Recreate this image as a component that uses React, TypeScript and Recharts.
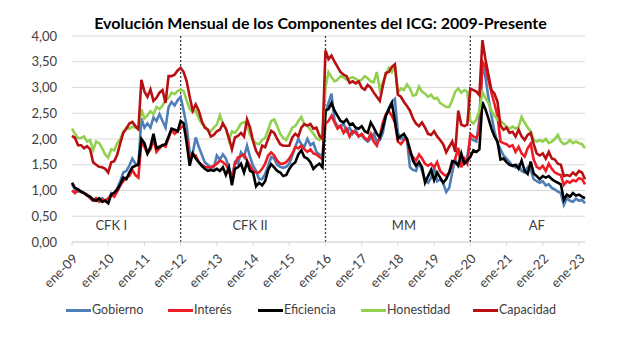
import React from 'react';
import {
  LineChart,
  Line,
  XAxis,
  YAxis,
  CartesianGrid,
  ReferenceLine,
  ReferenceDot,
} from 'recharts';

// Meses ene-09 .. mar-23
const MESES = ['ene', 'feb', 'mar', 'abr', 'may', 'jun', 'jul', 'ago', 'sep', 'oct', 'nov', 'dic'];
const ANIOS = ['09', '10', '11', '12', '13', '14', '15', '16', '17', '18', '19', '20', '21', '22', '23'];
const categorias = ANIOS.flatMap((a) => MESES.map((m) => `${m}-${a}`)).slice(0, 171);

const gobierno = [
  1.12, 1.02, 0.98, 0.97, 0.95, 0.92, 0.88, 0.82, 0.85, 0.80, 0.85, 0.80,
  0.78, 0.95, 0.92, 1.05, 1.18, 1.35, 1.38, 1.48, 1.62, 1.52, 1.50, 2.40,
  2.22, 2.30, 2.22, 2.42, 2.35, 2.48, 2.35, 2.22, 2.62, 2.72, 2.65, 2.75,
  2.82, 2.55, 2.25, 1.74, 1.72, 2.03, 1.85, 1.70, 1.55, 1.50, 1.45, 1.45,
  1.68, 1.60, 1.70, 1.62, 1.45, 1.25, 1.55, 1.52, 1.74, 1.65, 1.87, 1.65,
  1.48, 1.38, 1.22, 1.22, 1.32, 1.48, 1.65, 1.62, 1.50, 1.46, 1.44, 1.46,
  1.52, 1.68, 1.85, 2.00, 1.90, 1.85, 2.00, 1.88, 1.92, 1.75, 1.70, 1.68,
  2.50, 2.70, 2.88, 2.35, 2.25, 2.25, 2.30, 2.15, 2.22, 2.10, 2.18, 2.05,
  2.08, 2.00, 1.95, 2.00, 2.10, 1.95, 1.98, 2.12, 2.45, 2.60, 2.72, 2.78,
  2.12, 2.00, 2.03, 1.98, 1.45, 1.40, 1.38, 1.55, 1.38, 1.20, 1.15, 1.25,
  1.45, 1.18, 1.22, 1.15, 0.97, 1.05, 1.35, 1.60, 1.48, 1.62, 1.55, 1.65,
  2.02, 1.98, 1.95, 2.40, 3.45, 3.20, 2.80, 2.45, 2.15, 1.92, 1.80, 1.68,
  1.62, 1.55, 1.48, 1.45, 1.50, 1.38, 1.35, 1.45, 1.40, 1.22, 1.18, 1.15,
  1.18, 1.10, 1.12, 1.05, 1.02, 0.98, 0.95, 0.72, 0.85, 0.80, 0.78, 0.84,
  0.80, 0.82, 0.75,
];

const interes = [
  1.00, 0.95, 1.02, 0.98, 0.95, 0.92, 0.85, 0.80, 0.85, 0.78, 0.82, 0.80,
  0.85, 0.92, 0.88, 0.98, 1.10, 1.18, 1.25, 1.28, 1.40, 1.30, 1.25, 1.95,
  1.85, 1.72, 1.80, 2.00, 1.75, 1.82, 1.88, 1.85, 2.02, 2.18, 2.10, 2.15,
  2.22, 2.25, 2.05, 1.64, 1.70, 1.68, 1.55, 1.50, 1.46, 1.45, 1.45, 1.48,
  1.52, 1.58, 1.55, 1.50, 1.40, 1.18, 1.52, 1.64, 1.67, 1.70, 1.58, 1.48,
  1.38, 1.35, 1.35, 1.42, 1.52, 1.68, 1.74, 1.68, 1.58, 1.52, 1.52, 1.55,
  1.62, 1.72, 1.84, 1.82, 1.87, 1.80, 1.75, 1.80, 1.72, 1.70, 1.65, 1.61,
  2.30, 2.35, 2.45, 2.32, 2.20, 2.25, 2.12, 2.20, 2.05, 2.15, 2.12, 2.05,
  2.10, 2.02, 1.98, 2.10, 1.95, 1.87, 2.05, 2.32, 2.48, 2.54, 2.45, 2.32,
  1.95, 1.90, 1.98, 2.00, 1.72, 1.65, 1.58, 1.70, 1.62, 1.52, 1.48, 1.52,
  1.45, 1.55, 1.38, 1.32, 1.28, 1.35, 1.50, 1.62, 1.83, 1.45, 1.62, 1.52,
  2.10, 2.05, 2.02, 2.15, 3.50, 3.40, 3.15, 2.90, 2.68, 2.45, 1.95, 1.92,
  1.90, 1.85, 1.88, 1.75, 1.85, 1.72, 1.66, 1.82, 1.91, 1.60, 1.46, 1.42,
  1.48, 1.38, 1.52, 1.42, 1.35, 1.32, 1.30, 1.11, 1.18, 1.15, 1.20, 1.18,
  1.24, 1.22, 1.12,
];

const eficiencia = [
  1.15, 1.05, 1.02, 0.98, 0.95, 0.90, 0.88, 0.82, 0.80, 0.85, 0.78, 0.80,
  0.75, 0.92, 0.96, 1.02, 1.12, 1.25, 1.22, 1.35, 1.45, 1.48, 1.50, 2.00,
  1.92, 1.72, 1.85, 2.10, 1.82, 1.85, 1.88, 1.90, 2.05, 2.20, 2.18, 2.15,
  2.35, 2.30, 1.92, 1.48, 1.72, 1.62, 1.55, 1.48, 1.42, 1.38, 1.40, 1.38,
  1.42, 1.38, 1.45, 1.30, 1.45, 1.10, 1.42, 1.45, 1.52, 1.35, 1.55, 1.38,
  1.35, 1.08, 1.15, 1.10, 1.18, 1.40, 1.51, 1.45, 1.38, 1.35, 1.28, 1.30,
  1.42, 1.50, 1.55, 1.70, 1.78, 1.65, 1.62, 1.55, 1.42, 1.48, 1.52, 1.45,
  2.55, 2.58, 2.70, 2.55, 2.45, 2.35, 2.32, 2.38, 2.28, 2.30, 2.22, 2.20,
  2.25, 2.15, 2.12, 2.32, 2.22, 2.10, 2.03, 2.22, 2.45, 2.58, 2.70, 2.35,
  2.00, 2.06, 2.10, 2.00, 1.80, 1.58, 1.48, 1.55, 1.45, 1.15, 1.28, 1.40,
  1.20, 1.35, 1.25, 1.15, 1.22, 1.35, 1.57, 1.55, 1.48, 1.72, 1.52, 1.58,
  1.65, 1.78, 1.75, 1.80, 2.72, 2.58, 2.40, 2.20, 2.05, 1.95, 1.60, 1.62,
  1.55, 1.50, 1.48, 1.50, 1.42, 1.58, 1.38, 1.32, 1.56, 1.33, 1.28, 1.22,
  1.28, 1.25, 1.28, 1.22, 1.18, 1.15, 1.12, 0.82, 0.92, 0.88, 0.95, 0.90,
  0.92, 0.88, 0.85,
];

const honestidad = [
  2.20, 2.10, 2.02, 2.02, 2.05, 1.95, 1.98, 1.78, 1.95, 1.92, 1.82, 1.70,
  1.64, 1.80, 1.78, 1.92, 2.00, 2.14, 2.22, 2.20, 2.24, 2.22, 2.19, 2.58,
  2.40, 2.46, 2.54, 2.48, 2.62, 2.58, 2.65, 2.75, 2.80, 2.90, 2.87, 2.93,
  2.96, 2.93, 2.75, 2.58, 2.52, 2.55, 2.40, 2.30, 2.25, 2.18, 2.15, 2.22,
  2.28, 2.46, 2.30, 2.20, 1.98, 2.15, 2.12, 2.20, 2.30, 2.33, 2.28, 2.08,
  1.98, 1.92, 1.90, 1.98, 2.02, 2.18, 2.35, 2.38, 2.25, 2.10, 2.02, 1.98,
  2.10, 2.22, 2.25, 2.35, 2.43, 2.28, 2.25, 2.18, 2.10, 2.02, 1.98, 2.12,
  3.00, 3.30, 3.20, 3.12, 3.15, 3.22, 3.20, 3.15, 3.18, 3.20, 3.17, 3.12,
  3.15, 3.22, 3.18, 3.12, 3.10, 3.30, 2.96, 3.10, 3.25, 3.38, 3.30, 3.42,
  2.90, 2.98, 2.95, 3.06, 2.98, 2.84, 2.86, 3.02, 2.92, 2.88, 2.82, 2.86,
  2.78, 2.80, 2.70, 2.66, 2.62, 2.62, 2.75, 2.92, 2.98, 2.90, 2.95, 2.92,
  2.35, 2.30, 2.38, 2.55, 2.91, 2.80, 2.70, 2.55, 2.45, 2.38, 2.35, 2.30,
  2.24, 2.20, 2.24, 2.20, 2.24, 2.43, 2.32, 2.22, 2.15, 1.98, 1.95, 1.98,
  1.95, 2.00, 1.92, 1.95, 2.00, 2.08, 1.95, 1.90, 1.92, 1.98, 1.92, 1.95,
  1.92, 1.90, 1.82,
];

const capacidad = [
  2.06, 2.02, 1.88, 1.88, 1.82, 1.86, 1.80, 1.55, 1.50, 1.46, 1.45, 1.42,
  1.35, 1.55, 1.57, 1.70, 1.92, 2.12, 2.20, 2.30, 2.33, 2.25, 2.19, 3.15,
  2.92, 2.82, 2.96, 2.74, 2.80, 2.90, 2.95, 2.70, 3.22, 3.22, 3.25, 3.33,
  3.38, 3.30, 3.12, 2.82, 2.55, 2.67, 2.55, 2.35, 2.22, 2.18, 2.05, 2.08,
  2.15, 2.18, 2.30, 2.20, 2.02, 1.80, 2.03, 2.06, 2.12, 2.05, 2.38, 2.22,
  1.96, 1.77, 1.67, 1.87, 1.84, 2.00, 2.16, 2.12, 2.00, 1.90, 1.87, 1.87,
  1.87, 2.03, 2.10, 2.05, 2.22, 2.29, 2.26, 2.29, 2.20, 2.22, 2.06, 2.00,
  3.72, 3.55, 3.62, 3.50, 3.40, 3.30, 3.25, 3.22, 3.09, 3.12, 3.08, 3.12,
  3.00, 2.96, 3.05, 3.00, 2.90, 2.82, 2.74, 3.03, 3.28, 3.30, 3.40, 3.45,
  2.86, 2.82, 2.72, 2.64, 2.55, 2.40, 2.30, 2.25, 2.32, 2.22, 2.10, 2.08,
  2.15, 2.05, 1.98, 1.90, 1.74, 1.85, 1.95, 1.75, 2.55, 2.28, 2.25, 2.28,
  2.98, 2.95, 2.92, 2.85, 3.92, 3.55, 3.25, 2.95, 2.88, 2.72, 2.26, 2.18,
  2.22, 2.12, 2.14, 2.05, 2.18, 2.05, 1.98, 2.08, 2.12, 1.90, 1.72, 1.68,
  1.72, 1.62, 1.75, 1.62, 1.60, 1.52, 1.50, 1.28, 1.30, 1.28, 1.35, 1.30,
  1.38, 1.35, 1.22,
];

const series = [
  { key: 'gobierno', name: 'Gobierno', color: '#4f7fb8', values: gobierno },
  { key: 'interes', name: 'Interés', color: '#ee1c25', values: interes },
  { key: 'eficiencia', name: 'Eficiencia', color: '#000000', values: eficiencia },
  { key: 'honestidad', name: 'Honestidad', color: '#92d050', values: honestidad },
  { key: 'capacidad', name: 'Capacidad', color: '#b80f12', values: capacidad },
];

const cortes = ['ene-12', 'ene-16', 'ene-20'];
const periodos = [
  { label: 'CFK I', at: 'feb-10' },
  { label: 'CFK II', at: 'dic-13' },
  { label: 'MM', at: 'mar-18' },
  { label: 'AF', at: 'nov-21' },
];
const yTicks = [0, 0.5, 1, 1.5, 2, 2.5, 3, 3.5, 4];

// legend item left edges (px)
const legendX = [66, 168, 258, 361, 473];

const data = categorias.map((mes, i) => {
  const row: Record<string, string | number> = { mes };
  series.forEach((s) => {
    row[s.key] = s.values[i];
  });
  return row;
});

const fmt = (v: number) => v.toFixed(2).replace('.', ',');

const App: React.FC = () => {
  return (
    <div
      style={{
        position: 'absolute',
        left: 0,
        top: 0,
        width: 635,
        height: 337,
        background: '#fff',
        fontFamily: 'Lato, sans-serif',
      }}
    >
      <div
        style={{
          position: 'absolute',
          left: 0,
          top: 13,
          width: 641,
          textAlign: 'center',
          fontSize: 16,
          fontWeight: 700,
          lineHeight: '20px',
          color: '#000',
        }}
      >
        Evolución Mensual de los Componentes del ICG: 2009-Presente
      </div>
      <LineChart
        width={635}
        height={337}
        data={data}
        margin={{ top: 36, right: 50, bottom: 0, left: 0 }}
      >
        <CartesianGrid vertical={false} stroke="#d9d9d9" />
        <XAxis
          dataKey="mes"
          interval={11}
          height={95}
          angle={-45}
          textAnchor="end"
          stroke="#d9d9d9"
          tickSize={4}
          tickMargin={7}
          tick={{ fill: '#404040', fontSize: 13 }}
        />
        <YAxis
          domain={[0, 4]}
          ticks={yTicks}
          tickFormatter={fmt}
          width={72}
          axisLine={false}
          tickLine={false}
          tickMargin={9}
          tick={{ fill: '#404040', fontSize: 13 }}
        />
        {cortes.map((c) => (
          <ReferenceLine key={c} x={c} stroke="#404040" strokeWidth={1.3} strokeDasharray="2 2" />
        ))}
        {periodos.map((p) => (
          <ReferenceDot
            key={p.label}
            x={p.at}
            y={0.32}
            r={1}
            fill="none"
            stroke="none"
            label={{ value: p.label, position: 'center', fill: '#404040', fontSize: 13 }}
          />
        ))}
        {series.map((s) => (
          <Line
            key={s.key}
            type="linear"
            dataKey={s.key}
            name={s.name}
            stroke={s.color}
            strokeWidth={2.6}
            dot={false}
            isAnimationActive={false}
          />
        ))}
      </LineChart>
      {series.map((s, i) => (
        <div
          key={s.key}
          style={{
            position: 'absolute',
            left: legendX[i],
            top: 302,
            display: 'flex',
            alignItems: 'center',
            fontSize: 12.5,
            color: '#404040',
            lineHeight: '16px',
          }}
        >
          <span style={{ display: 'inline-block', width: 25, height: 3, background: s.color, marginRight: 1 }} />
          <span>{s.name}</span>
        </div>
      ))}
    </div>
  );
};

export default App;
